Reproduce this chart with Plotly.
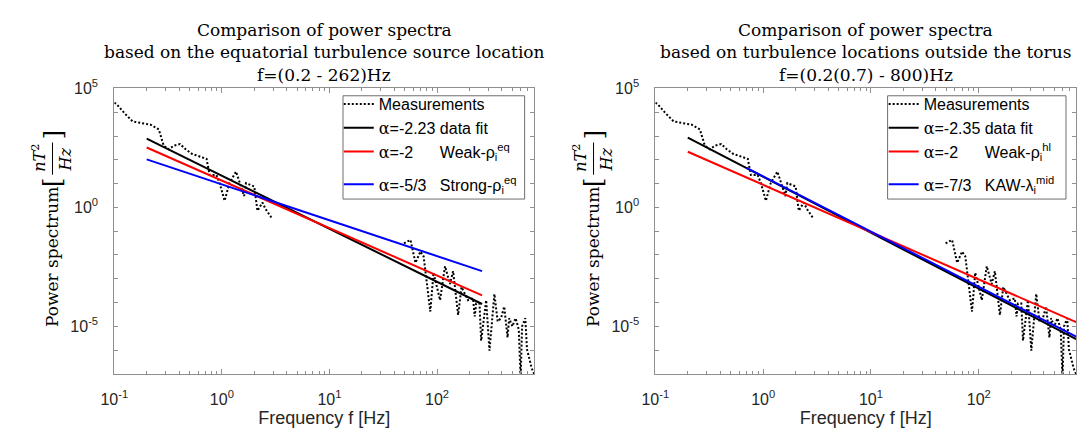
import plotly.graph_objects as go

W, H = 1087, 429

# ---------------- data ----------------
meas_f_low = [0.100, 0.104, 0.125, 0.148, 0.18, 0.217, 0.259, 0.288, 0.321, 0.36, 0.409,
              0.46, 0.525, 0.62, 0.72, 0.77, 0.89, 0.953, 1.06, 1.175, 1.355, 1.61,
              1.675, 2.0, 2.14, 2.38, 2.55, 2.94]
meas_p_low = [2.5e4, 2.3e4, 8.9e3, 4.1e3, 3.5e3, 3.0e3, 1.9e3, 390, 280, 400, 460,
              280, 180, 140, 110, 23, 23, 10.5, 1.9, 10.5, 32, 3.0,
              10.5, 7.6, 0.72, 1.6, 0.85, 0.33]
meas_f_high = [49.2, 56.6, 63, 70, 75, 86.5, 92.7, 106.7, 118.6, 131.8, 141, 157, 168.7,
               194, 216, 224, 231, 248, 257, 286, 307, 341, 366, 393, 421, 452, 468,
               501, 537, 575, 598, 617, 661, 685, 759, 800]
meas_p_high = [0.031, 0.043, 4.7e-3, 0.014, 8.7e-3, 4.2e-5, 1.8e-3, 1.26e-4, 3.4e-3, 6.0e-4,
               2.1e-3, 3.0e-5, 4.5e-4, 1.26e-4, 1.5e-4, 2.6e-5, 9.1e-5, 9.1e-5, 2.5e-6,
               1.26e-4, 9.5e-7, 2.3e-4, 1.6e-5, 2.2e-5, 6.8e-5, 3.4e-6, 2.2e-5, 1.0e-5,
               2.2e-5, 7.4e-6, 6.3e-8, 1.0e-5, 2.2e-5, 1.1e-6, 1.7e-7, 1.0e-7]

# left panel fits (0.2 - 262 Hz)
fitL_f = [0.2, 262]
fitL_black = [776, 8.7e-5]
fitL_red = [331, 2.0e-4]
fitL_blue = [105, 2.1e-3]
# right panel fits (0.2(0.7) - 800 Hz)
fitR_f = [0.2, 800]
fitR_black = [851, 2.9e-6]
fitR_red = [219, 1.5e-5]
fitR_blue_f = [0.7, 800]
fitR_blue = [46, 3.7e-6]

x_major = [0.1, 1, 10, 100]
x_major_text = ["10<sup>-1</sup>", "10<sup>0</sup>", "10<sup>1</sup>", "10<sup>2</sup>"]
x_minor = [0.2, 0.3, 0.4, 0.5, 0.6, 0.7, 0.8, 0.9, 2, 3, 4, 5, 6, 7, 8, 9,
           20, 30, 40, 50, 60, 70, 80, 90, 200, 300, 400, 500, 600, 700, 800]
y_ticks = [1e-7, 1e-6, 1e-5, 1e-4, 1e-3, 1e-2, 1e-1, 1, 10, 100, 1e3, 1e4, 1e5]
y_text = ["", "", "10<sup>-5</sup>", "", "", "", "", "10<sup>0</sup>", "", "", "", "", "10<sup>5</sup>"]

titlesL = ["Comparison of power spectra",
           "based on the equatorial turbulence source location",
           "f=(0.2 - 262)Hz"]
titlesR = ["Comparison of power spectra",
           "based on turbulence locations outside the torus",
           "f=(0.2(0.7) - 800)Hz"]

A = '<span style="font-family:DejaVu Serif">α</span>'
NB = "\u00a0"
namesL = ["Measurements", A + "=-2.23 data fit",
          A + "=-2" + NB * 6 + "Weak-ρ<sub>i</sub><sup>eq</sup>",
          A + "=-5/3" + NB * 3 + "Strong-ρ<sub>i</sub><sup>eq</sup>"]
namesR = ["Measurements", A + "=-2.35 data fit",
          A + "=-2" + NB * 6 + "Weak-ρ<sub>i</sub><sup>hl</sup>",
          A + "=-7/3" + NB * 3 + "KAW-λ<sub>i</sub><sup>mid</sup>"]

# ---------------- figure ----------------
def px(x):
    return x / W

def py(y):
    return 1 - y / H

fig = go.Figure()

meas_f = meas_f_low + [None] + meas_f_high
meas_p = meas_p_low + [None] + meas_p_high

dot = dict(color="black", width=2, dash="2px,2px")
for xa, ya, lg, names, grp in [("x", "y", "legend", namesL, "L"), ("x2", "y2", "legend2", namesR, "R")]:
    fig.add_trace(go.Scatter(x=meas_f, y=meas_p, mode="lines", line=dot, name=names[0],
                             xaxis=xa, yaxis=ya, legend=lg, legendgroup=grp + "a",
                             connectgaps=False))

def fit(xv, yv, color, name, xa, ya, lg, grp):
    fig.add_trace(go.Scatter(x=xv, y=yv, mode="lines", line=dict(color=color, width=2),
                             name=name, xaxis=xa, yaxis=ya, legend=lg, legendgroup=grp))

fit(fitL_f, fitL_black, "black", namesL[1], "x", "y", "legend", "La")
fit(fitL_f, fitL_red, "#ff0000", namesL[2], "x", "y", "legend", "La")
fit(fitL_f, fitL_blue, "#0000ff", namesL[3], "x", "y", "legend", "Lb")
fit(fitR_f, fitR_black, "black", namesR[1], "x2", "y2", "legend2", "Ra")
fit(fitR_f, fitR_red, "#ff0000", namesR[2], "x2", "y2", "legend2", "Ra")
fit(fitR_blue_f, fitR_blue, "#0000ff", namesR[3], "x2", "y2", "legend2", "Rb")

AX = "#8f8f8f"
TXT = "#262626"
SANS = "Liberation Sans"
tickfont = dict(family=SANS, size=16, color=TXT)

def xaxis(domain, anchor):
    return dict(type="log", domain=domain, anchor=anchor, range=[-1, 2.903],
                tickmode="array", tickvals=x_major, ticktext=x_major_text,
                ticks="inside", ticklen=5, tickcolor=AX, showline=True, linecolor=AX,
                linewidth=1, mirror="allticks", showgrid=False, zeroline=False,
                tickfont=tickfont, ticklabelstandoff=11,
                minor=dict(tickmode="array", tickvals=x_minor, ticks="inside", ticklen=3,
                           tickcolor=AX, showgrid=False),
                title=dict(text="Frequency f [Hz]",
                           font=dict(family=SANS, size=18, color=TXT),
                           standoff=4))

def yaxis(domain, anchor):
    return dict(type="log", domain=domain, anchor=anchor, range=[-7, 5],
                tickmode="array", tickvals=y_ticks, ticktext=y_text,
                ticks="inside", ticklen=4, tickcolor=AX, showline=True, linecolor=AX,
                linewidth=1, mirror="allticks", showgrid=False, zeroline=False,
                tickfont=tickfont, ticklabelstandoff=12)

ydom = [py(372.5), py(79.5)]
L = (101.6, 527.0)
R = (649.7, 1076.0)

legend_common = dict(bgcolor="rgba(0,0,0,0)", borderwidth=0,
                     font=dict(family=SANS, size=16, color="black"),
                     xanchor="left", yanchor="top", itemwidth=30, tracegroupgap=9)

fig.update_layout(
    width=W, height=H, margin=dict(l=0, r=0, t=0, b=0),
    paper_bgcolor="white", plot_bgcolor="white",
    xaxis=xaxis([px(L[0]), px(L[1])], "y"),
    yaxis=yaxis(ydom, "x"),
    xaxis2=xaxis([px(R[0]), px(R[1])], "y2"),
    yaxis2=yaxis(ydom, "x2"),
    legend=dict(x=px(329), y=py(78), **legend_common),
    legend2=dict(x=px(881), y=py(78), **legend_common),
    showlegend=True,
)

serif = "DejaVu Serif"
ann = []
for cx, lines in [((L[0] + L[1]) / 2, titlesL), ((R[0] + R[1]) / 2, titlesR)]:
    for yy, t in zip([19, 42, 66], lines):
        ann.append(dict(x=px(cx), y=py(yy), xref="paper", yref="paper", text=t, showarrow=False,
                        xanchor="center", yanchor="middle",
                        font=dict(family=serif, size=17, color="black")))

shapes = []
# legend frames (white boxes behind the legends)
for x0, x1 in [(333.3, 517.3), (885.0, 1065.7)]:
    shapes.append(dict(type="rect", xref="paper", yref="paper", layer="above",
                       x0=px(x0), x1=px(x1), y0=py(193), y1=py(87),
                       fillcolor="white", line=dict(color="#6e6e6e", width=1)))

for ax0 in [L[0], R[0]]:
    cx = ax0 - 63.6
    ann.append(dict(x=px(cx), y=py(253), xref="paper", yref="paper", text="Power spectrum",
                    textangle=-90, showarrow=False, xanchor="center", yanchor="middle",
                    font=dict(family=serif, size=17, color="black")))
    ann.append(dict(x=px(cx + 1), y=py(176), xref="paper", yref="paper", text="[",
                    textangle=-90, showarrow=False, xanchor="center", yanchor="middle",
                    font=dict(family=serif, size=24, color="black")))
    ann.append(dict(x=px(cx + 1), y=py(127), xref="paper", yref="paper", text="]",
                    textangle=-90, showarrow=False, xanchor="center", yanchor="middle",
                    font=dict(family=serif, size=24, color="black")))
    ann.append(dict(x=px(cx - 13), y=py(151), xref="paper", yref="paper",
                    text="<i>nT</i><sup>2</sup>",
                    textangle=-90, showarrow=False, xanchor="center", yanchor="middle",
                    font=dict(family=serif, size=16, color="black")))
    ann.append(dict(x=px(cx + 14), y=py(152), xref="paper", yref="paper", text="<i>Hz</i>",
                    textangle=-90, showarrow=False, xanchor="center", yanchor="middle",
                    font=dict(family=serif, size=16, color="black")))
    shapes.append(dict(type="line", xref="paper", yref="paper",
                       x0=px(cx + 1), x1=px(cx + 1), y0=py(135), y1=py(168),
                       line=dict(color="black", width=1)))

fig.update_layout(annotations=ann, shapes=shapes)

fig.write_html("out.html", config={"displayModeBar": False},
               post_script="document.body.style.margin='0';document.body.style.overflow='hidden';")
